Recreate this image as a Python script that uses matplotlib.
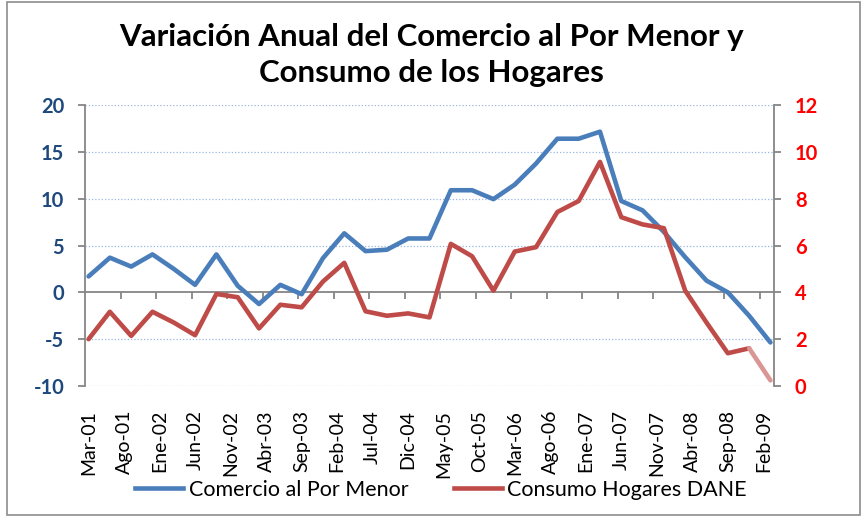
import numpy as np
import pandas as pd
import matplotlib
matplotlib.use("Agg")
import matplotlib.pyplot as plt
from matplotlib.patches import Rectangle
from matplotlib.lines import Line2D
import matplotlib.transforms as mtransforms

# Quarterly observations, March 2001 through March 2009
fechas = pd.period_range("2001-03", periods=33, freq="3M")

comercio = [1.7, 3.7, 2.75, 4.05, 2.5, 0.8, 4.05, 0.7, -1.25, 0.8, -0.2,
            3.65, 6.3, 4.4, 4.55, 5.75, 5.75, 10.9, 10.9, 9.95, 11.5, 13.75,
            16.4, 16.4, 17.15, 9.75, 8.75, 6.45, 3.75, 1.25, 0.0, -2.5, -5.35]

consumo = [2.0, 3.17, 2.14, 3.17, 2.71, 2.17, 3.93, 3.79, 2.46, 3.47, 3.36,
           4.46, 5.26, 3.19, 3.0, 3.1, 2.93, 6.07, 5.54, 4.07, 5.74, 5.93,
           7.43, 7.9, 9.57, 7.21, 6.9, 6.74, 4.07, 2.71, 1.4, 1.61, 0.24]

etiquetas_x = ["Mar-01", "Ago-01", "Ene-02", "Jun-02", "Nov-02", "Abr-03",
               "Sep-03", "Feb-04", "Jul-04", "Dic-04", "May-05", "Oct-05",
               "Mar-06", "Ago-06", "Ene-07", "Jun-07", "Nov-07", "Abr-08",
               "Sep-08", "Feb-09"]

ticks_izq = [-10, -5, 0, 5, 10, 15, 20]
ticks_der = [0, 2, 4, 6, 8, 10, 12]

titulo = "Variación Anual del Comercio al Por Menor y\nConsumo de los Hogares"
nombre_comercio = "Comercio al Por Menor"
nombre_consumo = "Consumo Hogares DANE"

AZUL = "#4A7EBB"
ROJO = "#BE4B48"
ROJO_CLARO = "#DA9694"
GRIS = "#868686"
GRID = "#9BB7E0"
AZUL_OSC = "#1F497D"

plt.rcParams["font.family"] = ["Lato", "DejaVu Sans"]

W, H = 863, 517
fig = plt.figure(figsize=(W / 100, H / 100), dpi=100)
fig.patch.set_facecolor("white")

# outer frame
fig.patches.append(Rectangle((7 / W, 2 / H), (860 - 7) / W, (515 - 2) / H,
                             transform=fig.transFigure, fill=False,
                             edgecolor="#8C8C8C", linewidth=1.2))

x0, x1, y0, y1 = 85, 774, 105, 386
ax = fig.add_axes([x0 / W, 1 - y1 / H, (x1 - x0) / W, (y1 - y0) / H])
ax2 = ax.twinx()

# months since March 2001
mes = np.array([(p.year - 2001) * 12 + p.month - 3 for p in fechas])

ax.set_xlim(-0.5, 96.5)
ax.set_ylim(-10, 20)
ax2.set_ylim(0, 12)

for v in ticks_izq:
    if v != 0:
        ax.axhline(v, color=GRID, linewidth=0.9, linestyle=(0, (1, 1.6)),
                   zorder=0.5)

ax.plot(mes, comercio, color=AZUL, linewidth=3.3, solid_joinstyle="round",
        solid_capstyle="round", zorder=3)
ax2.plot(mes[:-1], consumo[:-1], color=ROJO, linewidth=3.3,
         solid_joinstyle="round", solid_capstyle="round", zorder=3)
ax2.plot(mes[-2:], consumo[-2:], color=ROJO_CLARO, linewidth=3.3,
         solid_capstyle="round", zorder=3)

# spines
for s in ["top", "right"]:
    ax.spines[s].set_visible(False)
for s in ["top", "left", "bottom"]:
    ax2.spines[s].set_visible(False)
ax.spines["left"].set_color(GRIS)
ax.spines["left"].set_linewidth(1.3)
ax2.spines["right"].set_color(GRIS)
ax2.spines["right"].set_linewidth(1.3)
ax.spines["bottom"].set_position(("data", 0))
ax.spines["bottom"].set_color(GRIS)
ax.spines["bottom"].set_linewidth(1.3)

ax.set_yticks(ticks_izq)
ax.set_yticklabels([str(v) for v in ticks_izq])
ax.tick_params(axis="y", direction="out", length=5, width=1.3, color=GRIS,
               pad=10, labelsize=14.5, labelcolor=AZUL_OSC)
for t in ax.get_yticklabels():
    t.set_fontweight("bold")

ax2.set_yticks(ticks_der)
ax2.set_yticklabels([str(v) for v in ticks_der])
ax2.tick_params(axis="y", direction="out", length=5, width=1.3, color=GRIS,
                pad=10, labelsize=14.5, labelcolor="#FF0000")
for t in ax2.get_yticklabels():
    t.set_fontweight("bold")

# tick marks along the zero line, between label periods
ax.set_xticks(np.arange(4.5, 96, 5))
ax.set_xticklabels([])
ax.tick_params(axis="x", direction="out", length=5, width=1.3, color=GRIS)

# date labels below the plot area
trans = mtransforms.blended_transform_factory(ax.transData, ax.transAxes)
for i, lab in enumerate(etiquetas_x):
    ax.text(i * 5, -24 / (y1 - y0), lab, transform=trans, rotation=90,
            ha="center", va="top", fontsize=14, color="black")

fig.text(0.5, 1 - 55 / H, titulo, ha="center", va="center", fontsize=22.5,
         fontweight="bold", linespacing=1.33)

handles = [Line2D([0], [0], color=AZUL, linewidth=3.3),
           Line2D([0], [0], color=ROJO, linewidth=3.3)]
fig.legend(handles, [nombre_comercio, nombre_consumo], loc="center",
           bbox_to_anchor=(441 / W, 1 - 490 / H), ncol=2, frameon=False,
           fontsize=15.5, handlelength=2.25, handletextpad=0.25,
           columnspacing=2.1)

fig.savefig("out.png", dpi=100)
